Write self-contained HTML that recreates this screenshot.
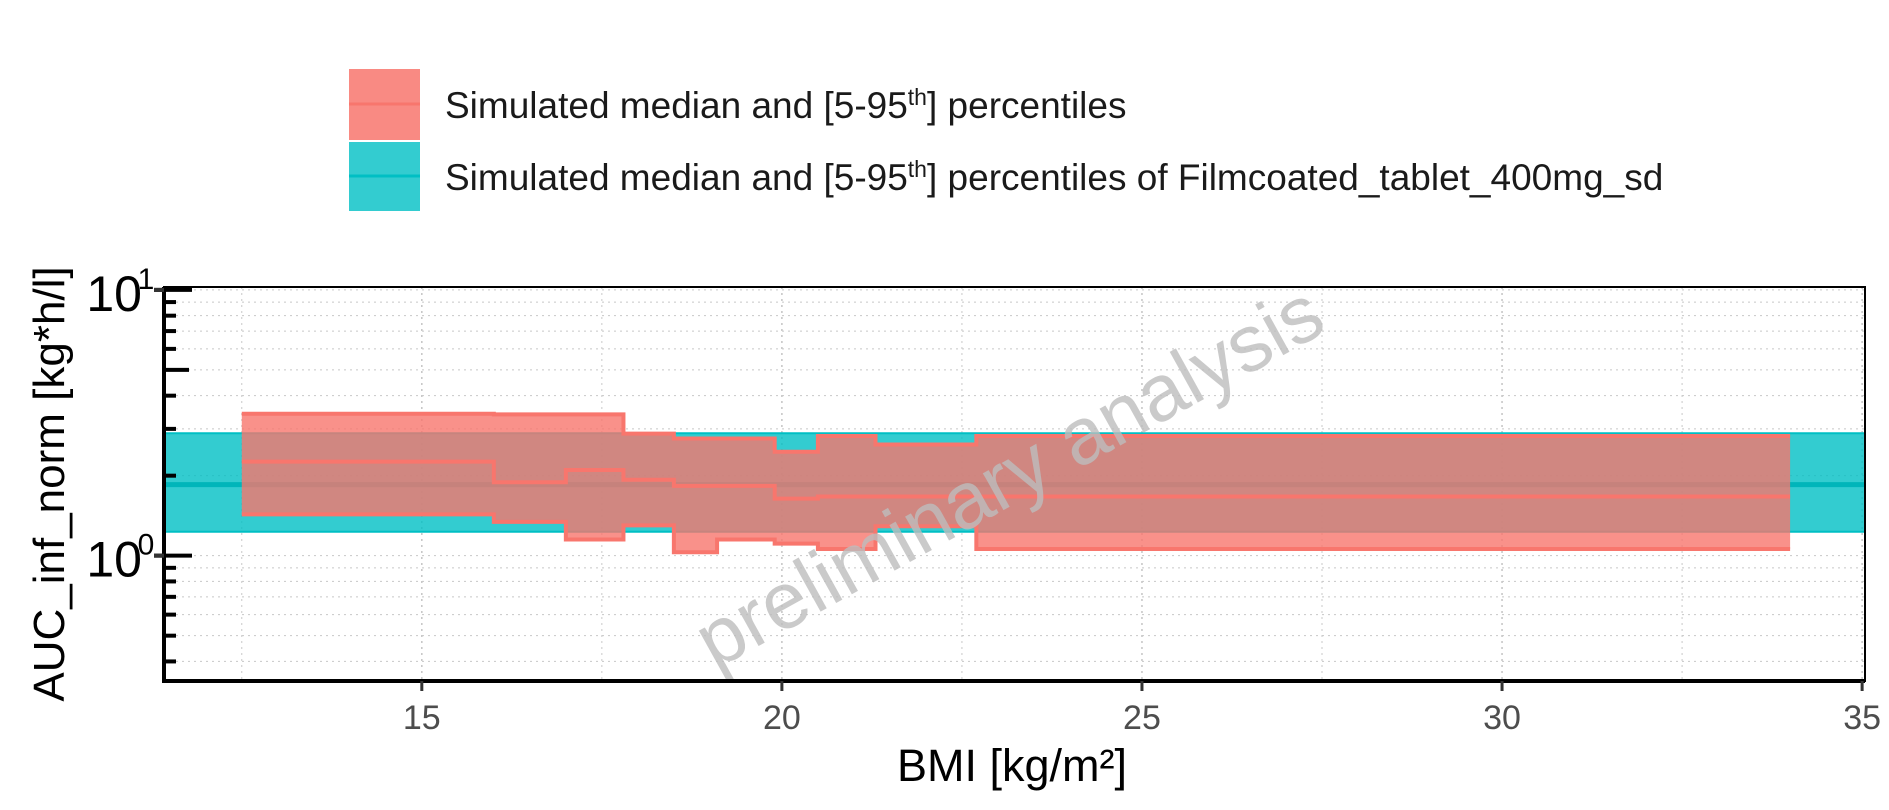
<!DOCTYPE html>
<html><head><meta charset="utf-8"><style>
html,body{margin:0;padding:0;background:#fff;}
svg{display:block;font-family:"Liberation Sans",Arial,sans-serif;}
</style></head><body>
<svg id="chart" width="1889" height="810" viewBox="0 0 1889 810">
<g>
 <g>
  <rect x="349" y="69" width="71" height="71" fill="#F8766D" fill-opacity="0.85"/>
  <line x1="349" y1="104" x2="420" y2="104" stroke="#F8766D" stroke-width="3"/>
  <text x="445" y="118" font-size="37" fill="#1a1a1a">Simulated median and [5-95<tspan font-size="23" dy="-13">th</tspan><tspan dy="13">] percentiles</tspan></text>
 </g>
 <g>
  <rect x="349" y="142" width="71" height="69" fill="#00BFC4" fill-opacity="0.8"/>
  <line x1="349" y1="176" x2="420" y2="176" stroke="#00BFC4" stroke-width="3"/>
  <text x="445" y="190" font-size="37" fill="#1a1a1a">Simulated median and [5-95<tspan font-size="23" dy="-13">th</tspan><tspan dy="13">] percentiles of Filmcoated_tablet_400mg_sd</tspan></text>
 </g>
</g>
<g id="grid"></g>
<g id="series"></g>
<text x="1022" y="500" font-size="80" fill="#bdbdbd" fill-opacity="0.8" text-anchor="middle" transform="rotate(-29 1022 500)">preliminary analysis</text>
<g id="axes"></g>
<text x="1012" y="781" font-size="45" text-anchor="middle" fill="#000">BMI [kg/m²]</text>
<text x="0" y="0" font-size="44" text-anchor="middle" fill="#000" transform="translate(64 484) rotate(-90)">AUC_inf_norm [kg*h/l]</text>
</svg>
<script>
const binEdges=[12.5,16,17,17.8,18.5,19.1,19.9,20.5,21.3,22.7,34];
const simUpper=[3.42,3.40,3.40,2.88,2.76,2.76,2.46,2.82,2.62,2.82];
const simMedian=[2.26,1.89,2.10,1.93,1.83,1.83,1.64,1.67,1.67,1.67];
const simLower=[1.43,1.34,1.15,1.30,1.03,1.15,1.11,1.06,1.29,1.06];
const refRange=[11.42,35.04];
const refLower=1.23, refMedian=1.85, refUpper=2.89;
const xTicks=[15,20,25,30,35];
const xMinor=[12.5,17.5,22.5,27.5,32.5];
const yMajor=[1,10];
const yMinor=[0.4,0.5,0.6,0.7,0.8,0.9,2,3,4,5,6,7,8,9];

const L=164,R=1865,T=287,B=681;
const xMin=11.42,xMax=35.04,yMinL=Math.log10(0.3376),yMaxL=1.011;
const X=v=>L+(v-xMin)/(xMax-xMin)*(R-L);
const Y=v=>B-(Math.log10(v)-yMinL)/(yMaxL-yMinL)*(B-T);
const NS='http://www.w3.org/2000/svg';
function mk(tag,attrs,parent){const e=document.createElementNS(NS,tag);for(const k in attrs)e.setAttribute(k,attrs[k]);parent.appendChild(e);return e;}
const grid=document.getElementById('grid'),series=document.getElementById('series'),axes=document.getElementById('axes');

[...xTicks,...xMinor].forEach(v=>{const l=mk('line',{x1:X(v),x2:X(v),y1:T,y2:B,stroke:'#c8c8c8','stroke-width':xTicks.includes(v)?1.6:1,'stroke-dasharray':'2 4'},grid);

});
[...yMajor,...yMinor].forEach(v=>{const l=mk('line',{x1:L,x2:R,y1:Y(v),y2:Y(v),stroke:'#c8c8c8','stroke-width':1,'stroke-dasharray':'2 4'},grid);

});

const band=mk('rect',{x:X(refRange[0]),y:Y(refUpper),width:X(refRange[1])-X(refRange[0]),height:Y(refLower)-Y(refUpper),fill:'#00BFC4','fill-opacity':0.8},series);


[refLower,refUpper].forEach(v=>{const l=mk('line',{x1:X(refRange[0]),x2:X(refRange[1]),y1:Y(v),y2:Y(v),stroke:'#00BFC4','stroke-width':2},series);

});
const rm=mk('line',{x1:X(refRange[0]),x2:X(refRange[1]),y1:Y(refMedian),y2:Y(refMedian),stroke:'#00B5BA','stroke-width':5},series);



function stepPts(vals){const p=[];vals.forEach((v,i)=>{p.push([X(binEdges[i]),Y(v)]);p.push([X(binEdges[i+1]),Y(v)]);});return p;}
const up=stepPts(simUpper),lo=stepPts(simLower);
const poly=[...up,...lo.reverse()].map(p=>p.join(',')).join(' ');
const area=mk('polygon',{points:poly,fill:'#F8766D','fill-opacity':0.8},series);


[[simUpper,'simulated-upper-line'],[simMedian,'simulated-median-line'],[simLower,'simulated-lower-line']].forEach(([arr,name])=>{
 const pl=mk('polyline',{points:stepPts(arr).map(p=>p.join(',')).join(' '),fill:'none',stroke:'#F8766D','stroke-width':4},series);
 
 
});

const fr=mk('rect',{x:L,y:T,width:R-L,height:B-T,fill:'none',stroke:'#000','stroke-width':2},axes);


mk('line',{x1:L,x2:L,y1:T,y2:B+2,stroke:'#000','stroke-width':4},axes);
mk('line',{x1:L-2,x2:R,y1:B,y2:B,stroke:'#000','stroke-width':4},axes);
xTicks.forEach(v=>{mk('line',{x1:X(v),x2:X(v),y1:B,y2:B+10,stroke:'#333','stroke-width':3},axes);
 const t=mk('text',{x:X(v),y:B+48,'font-size':34,fill:'#4D4D4D','text-anchor':'middle'},axes);t.textContent=v;
 
 });
yMinor.forEach(v=>{mk('line',{x1:L,x2:L+(v===5?25:12),y1:Y(v),y2:Y(v),stroke:'#000','stroke-width':4},axes);});
yMajor.forEach((v,i)=>{mk('line',{x1:L-10,x2:L+28,y1:Y(v),y2:Y(v),stroke:'#000','stroke-width':4},axes);
 mk('line',{x1:L-10,x2:L,y1:Y(v),y2:Y(v),stroke:'#333','stroke-width':4},axes);
 const t=mk('text',{x:L-22,y:Y(v)+21,'font-size':50,fill:'#000','text-anchor':'end'},axes);
 t.innerHTML='10';
 const s=mk('tspan',{'font-size':30,x:L-18,y:Y(v)-1,'text-anchor':'middle'},t);s.textContent=String(Math.round(Math.log10(v)));
 
 });
</script>
</body></html>
